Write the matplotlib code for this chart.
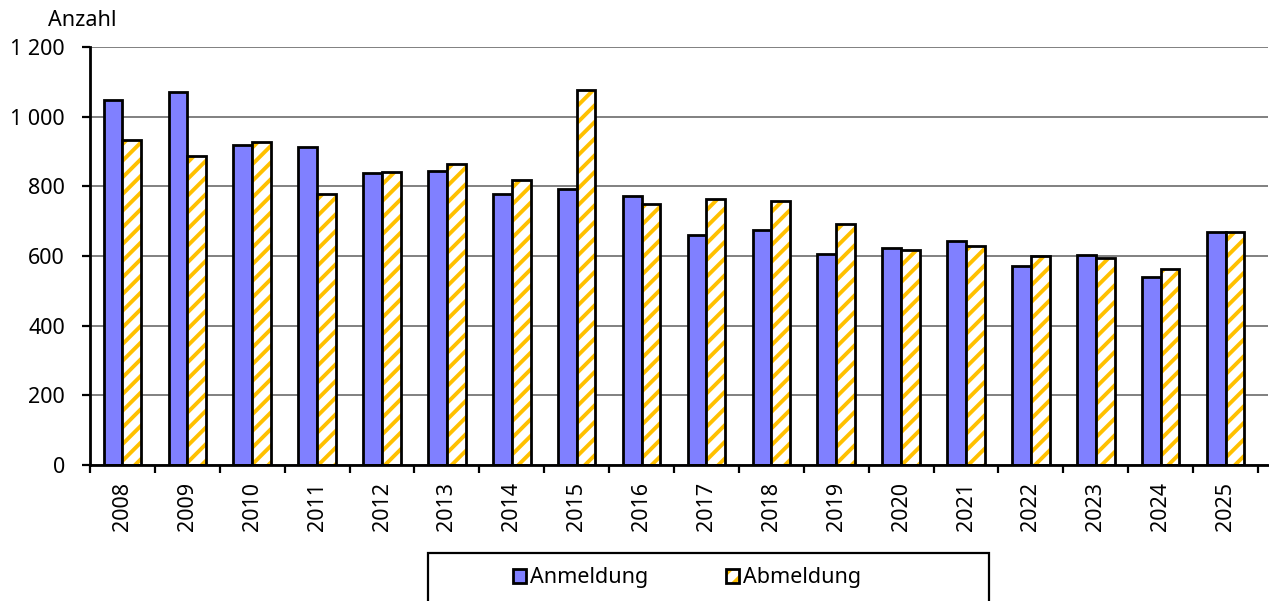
import numpy as np
import matplotlib
matplotlib.use("Agg")
import matplotlib.pyplot as plt
from matplotlib.patches import Rectangle, Patch
from matplotlib.legend_handler import HandlerTuple
from matplotlib.ticker import FuncFormatter

years = [str(y) for y in range(2008, 2026)]
anmeldung = [1048, 1071, 919, 913, 838, 844, 778, 792, 772, 660, 675, 606, 623, 643, 571, 603, 540, 669]
abmeldung = [933, 887, 927, 778, 841, 864, 818, 1077, 749, 764, 758, 692, 617, 629, 600, 594, 563, 669]

plt.rcParams["font.family"] = ["Noto Sans", "DejaVu Sans"]
plt.rcParams["hatch.color"] = "#FFC000"
plt.rcParams["hatch.linewidth"] = 2.8

W, H = 1269, 601
fig = plt.figure(figsize=(W / 100, H / 100), dpi=100)
ax = fig.add_axes([90 / W, 1 - 465 / H, (W - 1 - 90) / W, (465 - 47) / H])

x = np.arange(len(years))
bw = 0.29
blue = "#8080FF"
elw = 2.0
fs = 15.5

ax.bar(x - bw / 2, anmeldung, bw, color=blue, edgecolor="black", linewidth=elw, zorder=3)
ax.bar(x + bw / 2, abmeldung, bw, color="white", hatch="//", linewidth=0, zorder=3)
ax.bar(x + bw / 2, abmeldung, bw, fill=False, edgecolor="black", linewidth=elw, zorder=4)

ax.set_ylim(0, 1200)
ax.set_xlim(-0.5, len(years) - 0.5 + 10 / 64.9)
ax.set_yticks(np.arange(0, 1201, 200))
ax.yaxis.set_major_formatter(FuncFormatter(lambda v, p: f"{int(v):,}".replace(",", " ")))
ax.set_xticks(x)
ax.set_xticklabels(years, rotation=90)
ax.set_xticks(np.arange(-0.5, len(years) - 0.4, 1), minor=True)
ax.tick_params(axis="x", which="major", length=0, pad=12, labelsize=fs)
ax.tick_params(axis="x", which="minor", length=6, width=1.6, direction="out")
ax.tick_params(axis="y", length=6, width=1.6, direction="out", labelsize=fs, pad=12)

ax.grid(axis="y", color="#808080", linewidth=1.4, zorder=0)
ax.set_axisbelow(True)
for s in ["top", "right"]:
    ax.spines[s].set_visible(False)
for s in ["left", "bottom"]:
    ax.spines[s].set_linewidth(elw)
    ax.spines[s].set_zorder(5)

fig.text(48 / W, 1 - 20 / H, "Anzahl", fontsize=fs, va="center", ha="left")

# legend box
fig.patches.append(Rectangle((428 / W, -0.05), (989 - 428) / W, (1 - 553 / H) + 0.05,
                             transform=fig.transFigure, fill=False, edgecolor="black",
                             linewidth=1.6, clip_on=False))
h1 = Patch(facecolor=blue, edgecolor="black", linewidth=elw)
h2a = Patch(facecolor="white", hatch="//", linewidth=0)
h2b = Patch(fill=False, edgecolor="black", linewidth=elw)
fig.legend([h1, (h2a, h2b)], ["Anmeldung", "Abmeldung"],
           handler_map={tuple: HandlerTuple(ndivide=1)},
           loc="center", bbox_to_anchor=(687 / W, 1 - 578 / H), ncol=2, frameon=False,
           fontsize=fs, handlelength=0.6, handleheight=0.6, handletextpad=0.2,
           columnspacing=3.6)

fig.savefig("out.png", dpi=100)
